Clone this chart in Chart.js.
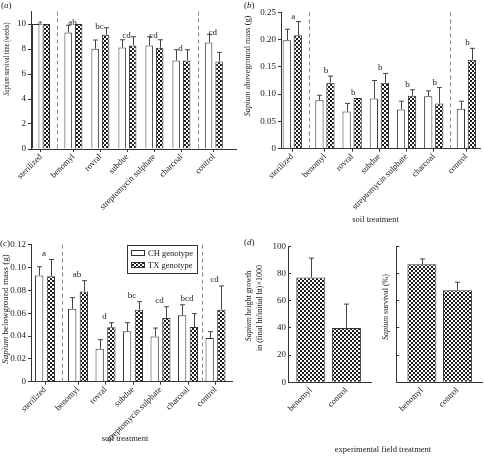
<!DOCTYPE html>
<html>
<head>
<meta charset="utf-8">
<script src="https://cdn.jsdelivr.net/npm/chart.js@4.4.1/dist/chart.umd.min.js"></script>
<style>
  body { margin: 0; background: #fff; }
  #wrap { position: relative; width: 484px; height: 456px; background: #fff; overflow: hidden; }
  #wrap canvas { position: absolute; }
  .note { position: absolute; font: 8.5px "Liberation Serif", serif; color: #222; white-space: nowrap; }
</style>
</head>
<body>
<div id="wrap">
  <canvas id="pa" width="242" height="228" style="left:0;top:0"></canvas>
  <canvas id="pb" width="242" height="228" style="left:242px;top:0"></canvas>
  <canvas id="pc" width="242" height="228" style="left:0;top:228px"></canvas>
  <canvas id="pd1" width="135" height="228" style="left:242px;top:228px"></canvas>
  <canvas id="pd2" width="107" height="228" style="left:377px;top:228px"></canvas>
  <div class="note" id="fieldTitle" style="left:0;top:444px;width:766px;text-align:center">experimental field treatment</div>
</div>
<script>
// ── Dados ───────────────────────────────────────────────────

const soilTreatments = ['sterilized', 'benomyl', 'rovral', 'subdue', 'streptomycin sulphate', 'charcoal', 'control'];
const genotypes = ['CH genotype', 'TX genotype'];

// (a) tempo de sobrevivência (semanas)
const survivalCH    = [10, 9.33, 8.02, 8.13, 8.29, 7.09, 8.53];
const survivalCHErr = [0, 0.57, 0.70, 0.61, 0.69, 0.85, 0.64];
const survivalTX    = [10, 10, 9.14, 8.29, 8.10, 7.09, 7.00];
const survivalTXErr = [0, 0, 0.56, 0.69, 0.64, 0.85, 0.73];
const survivalLetters = ['a', 'ab', 'bc', 'cd', 'cd', 'd', 'cd'];

// (b) massa aérea (g)
const aboveCH    = [0.199, 0.089, 0.068, 0.092, 0.072, 0.096, 0.073];
const aboveCHErr = [0.020, 0.009, 0.015, 0.033, 0.015, 0.010, 0.014];
const aboveTX    = [0.208, 0.121, 0.093, 0.121, 0.097, 0.083, 0.163];
const aboveTXErr = [0.025, 0.012, 0, 0.017, 0.011, 0.029, 0.021];
const aboveLetters = ['a', 'b', 'b', 'b', 'b', 'b', 'b'];

// (c) massa subterrânea (g)
const belowCH    = [0.0931, 0.0639, 0.0289, 0.0441, 0.0397, 0.0581, 0.0382];
const belowCHErr = [0.0076, 0.0097, 0.0079, 0.0076, 0.0073, 0.0093, 0.0056];
const belowTX    = [0.0923, 0.0791, 0.0476, 0.0631, 0.0558, 0.0479, 0.0631];
const belowTXErr = [0.0147, 0.0094, 0.0041, 0.0070, 0.0099, 0.0117, 0.0207];
const belowLetters = ['a', 'ab', 'd', 'bc', 'cd', 'bcd', 'cd'];

// (d) experimento de campo
const fieldTreatments  = ['benomyl', 'control'];
const heightGrowth     = [77, 40];
const heightGrowthErr  = [14.3, 17.5];
const fieldSurvival    = [86.8, 67.7];
const fieldSurvivalErr = [3.9, 5.9];

// ── Layout / estilo ─────────────────────────────────────────

const slotsAB = [0, 1.2, 2.2, 3.2, 4.2, 5.2, 6.4]; // posição dos grupos no eixo x
const slotsC  = [0, 1.2, 2.2, 3.2, 4.2, 5.2, 6.2];
const slotsD  = [0, 1];

const FONT = '"Liberation Serif", "DejaVu Serif", serif';
const FS = 9;
const INK = '#222';
const AXIS = '#333';

function hatch() {
    const c = document.createElement('canvas');
    c.width = 4; c.height = 4;
    const g = c.getContext('2d');
    g.fillStyle = '#fff'; g.fillRect(0, 0, 4, 4);
    g.fillStyle = '#1c1c1c';
    g.fillRect(0, 0, 2, 2); g.fillRect(2, 2, 2, 2);
    return g.createPattern(c, 'repeat');
}
const TX_FILL = hatch();

// desenha texto com partes em itálico (sx comprime no sentido do texto)
function drawParts(ctx, parts, x, y, rot, align, size, sx) {
    const fs = size || FS;
    ctx.save();
    ctx.translate(x, y);
    if (rot) ctx.rotate(rot);
    if (sx) ctx.scale(sx, 1);
    ctx.textBaseline = 'middle';
    ctx.textAlign = 'left';
    let total = 0;
    parts.forEach(p => { ctx.font = (p.it ? 'italic ' : '') + fs + 'px ' + FONT; total += ctx.measureText(p.t).width; });
    let cx = align === 'left' ? 0 : -total / 2;
    ctx.fillStyle = INK;
    parts.forEach(p => {
        ctx.font = (p.it ? 'italic ' : '') + fs + 'px ' + FONT;
        ctx.fillText(p.t, cx, 0);
        cx += ctx.measureText(p.t).width;
    });
    ctx.restore();
}

// plugin: separadores, barras de erro, letras, títulos
const extras = {
    id: 'extras',
    beforeDatasetsDraw(chart) {
        const o = chart.options.plugins.extras;
        const { ctx, chartArea: a } = chart;
        const xs = chart.scales.x;
        (o.seps || []).forEach(v => {
            const px = Math.round(xs.getPixelForValue(v)) + 0.5;
            ctx.save();
            ctx.strokeStyle = '#8a8a8a';
            ctx.lineWidth = 1;
            ctx.setLineDash([4, 3]);
            ctx.beginPath(); ctx.moveTo(px, a.top); ctx.lineTo(px, a.bottom); ctx.stroke();
            ctx.restore();
        });
    },
    afterDatasetsDraw(chart) {
        const o = chart.options.plugins.extras;
        const { ctx } = chart;
        const ys = chart.scales.y;
        const tops = [];
        ctx.save();
        ctx.strokeStyle = '#444';
        ctx.lineWidth = 1;
        chart.data.datasets.forEach((ds, di) => {
            chart.getDatasetMeta(di).data.forEach((bar, i) => {
                const v = ds.data[i].y, e = ds.err[i] || 0;
                const yt = ys.getPixelForValue(v + e);
                tops[i] = Math.min(tops[i] ?? Infinity, yt);
                if (!e) return;
                const bx = Math.round(bar.x) + 0.5;
                ctx.beginPath();
                ctx.moveTo(bx, bar.y); ctx.lineTo(bx, yt);
                ctx.moveTo(bx - 2.5, yt); ctx.lineTo(bx + 2.5, yt);
                ctx.stroke();
            });
        });
        ctx.restore();
        if (o.letters) {
            ctx.save();
            ctx.font = FS + 'px ' + FONT;
            ctx.fillStyle = INK;
            ctx.textAlign = 'center';
            ctx.textBaseline = 'alphabetic';
            o.letters.forEach((t, i) => {
                const x = chart.scales.x.getPixelForValue(o.slots[i]) + (o.letterDx || 0);
                ctx.fillText(t, x, tops[i] + o.letterDy);
            });
            ctx.restore();
        }
    },
    afterDraw(chart) {
        const o = chart.options.plugins.extras;
        const { ctx } = chart;
        (o.texts || []).forEach(t => drawParts(ctx, t.parts, t.x, t.y, t.rot, t.align, t.size, t.sx));
        if (o.legend) {
            const L = o.legend;
            ctx.save();
            ctx.strokeStyle = AXIS; ctx.lineWidth = 1;
            ctx.strokeRect(L.x + 0.5, L.y + 0.5, L.w, L.h);
            chart.data.datasets.forEach((ds, i) => {
                const yy = L.y + 8 + i * 12;
                ctx.fillStyle = ds.backgroundColor;
                ctx.fillRect(L.x + 4, yy - 2, 13, 5);
                ctx.strokeStyle = AXIS;
                ctx.strokeRect(L.x + 4.5, yy - 2.5, 13, 5);
                drawParts(ctx, [{ t: ds.label }], L.x + 21, yy + 0.5, 0, 'left', 8.5);
            });
            ctx.restore();
        }
    }
};

function tickFmt(v) { return v === 0 ? '0' : v.toFixed(2); }

function makePanel(id, p) {
    const el = document.getElementById(id);
    const W = el.width, H = el.height;
    const inward = !!p.inwardTicks;
    return new Chart(el.getContext('2d'), {
        type: 'bar',
        data: {
            datasets: p.series.map(s => ({
                label: s.label,
                data: p.slots.map((x, i) => ({ x, y: s.data[i] })),
                err: s.err,
                backgroundColor: s.fill,
                borderColor: AXIS,
                borderWidth: 1,
                categoryPercentage: p.catPct,
                barPercentage: p.barPct,
            }))
        },
        options: {
            responsive: false,
            animation: false,
            events: [],
            layout: { padding: { left: 0, top: p.area.t, right: W - p.area.r, bottom: 0 } },
            plugins: {
                legend: { display: false },
                tooltip: { enabled: false },
                extras: p.extras,
            },
            scales: {
                x: {
                    type: 'linear',
                    min: p.xMin, max: p.xMax,
                    offset: false,
                    grid: { display: true, drawOnChartArea: false, drawTicks: !inward, tickLength: 3, color: AXIS, offset: false },
                    border: { color: AXIS },
                    afterBuildTicks: s => { s.ticks = p.slots.map(v => ({ value: v })); },
                    afterFit: s => { s.height = H - p.area.b; },
                    ticks: {
                        autoSkip: false, minRotation: 45, maxRotation: 45, padding: inward ? 3 : 0,
                        color: INK, font: { family: FONT, size: 8.5 },
                        callback: (v, i) => p.labels[i],
                    }
                },
                y: {
                    min: 0, max: p.yMax,
                    grid: { drawOnChartArea: false, tickLength: inward ? -3 : 3, color: AXIS },
                    border: { color: AXIS },
                    afterFit: s => { s.width = p.area.l; },
                    ticks: {
                        stepSize: p.yStep, includeBounds: false, padding: inward ? 5 : 2,
                        color: INK, font: { family: FONT, size: FS },
                        callback: p.yFmt || (v => v),
                    }
                }
            }
        },
        plugins: [extras]
    });
}

const seriesOf = (ch, chE, tx, txE) => [
    { label: genotypes[0], data: ch, err: chE, fill: '#fff' },
    { label: genotypes[1], data: tx, err: txE, fill: TX_FILL },
];
const sepsOf = s => [(s[0] + s[1]) / 2, (s[5] + s[6]) / 2];

// (a)
makePanel('pa', {
    labels: soilTreatments, slots: slotsAB,
    series: seriesOf(survivalCH, survivalCHErr, survivalTX, survivalTXErr),
    area: { l: 31, t: 11.5, r: 236, b: 149 },
    xMin: -0.37, xMax: 7.22, yMax: 11, yStep: 2,
    catPct: 0.78, barPct: 0.71,
    extras: {
        seps: sepsOf(slotsAB), slots: slotsAB, letters: survivalLetters, letterDx: -1, letterDy: 1,
        texts: [
            { parts: [{ t: '(' }, { t: 'a', it: true }, { t: ')' }], x: 1, y: 6, align: 'left' },
            { parts: [{ t: 'Sapium', it: true }, { t: ' survival time (weeks)' }], x: 7, y: 59, rot: -Math.PI / 2, size: 9, sx: 0.68 },
        ]
    }
});

// (b)
makePanel('pb', {
    labels: soilTreatments, slots: slotsAB,
    series: seriesOf(aboveCH, aboveCHErr, aboveTX, aboveTXErr),
    area: { l: 39, t: 12.3, r: 238, b: 148.7 },
    xMin: -0.415, xMax: 6.9, yMax: 0.25, yStep: 0.05, yFmt: tickFmt,
    catPct: 0.81, barPct: 0.75,
    extras: {
        seps: sepsOf(slotsAB), slots: slotsAB, letters: aboveLetters, letterDx: 1, letterDy: -3,
        texts: [
            { parts: [{ t: '(' }, { t: 'b', it: true }, { t: ')' }], x: 2, y: 6, align: 'left' },
            { parts: [{ t: 'Sapium', it: true }, { t: ' aboveground mass (g)' }], x: 6, y: 66, rot: -Math.PI / 2, size: 8.3 },
            { parts: [{ t: 'soil treatment' }], x: 133.5, y: 220, size: 8.5 },
        ]
    }
});

// (c)
makePanel('pc', {
    labels: soilTreatments, slots: slotsC,
    series: seriesOf(belowCH, belowCHErr, belowTX, belowTXErr),
    area: { l: 31, t: 16.7, r: 232, b: 153.7 },
    xMin: -0.51, xMax: 6.8, yMax: 0.12, yStep: 0.02, yFmt: tickFmt,
    catPct: 0.85, barPct: 0.71,
    extras: {
        seps: sepsOf(slotsC), slots: slotsC, letters: belowLetters, letterDx: -1, letterDy: -4,
        legend: { x: 127, y: 17, w: 70, h: 28 },
        texts: [
            { parts: [{ t: '(' }, { t: 'c', it: true }, { t: ')' }], x: 0, y: 16, align: 'left' },
            { parts: [{ t: 'Sapium', it: true }, { t: ' belowground mass (g)' }], x: 6, y: 81, rot: -Math.PI / 2 },
            { parts: [{ t: 'soil treatment' }], x: 125, y: 211, size: 8.5 },
        ]
    }
});

// (d) altura
makePanel('pd1', {
    labels: fieldTreatments, slots: slotsD,
    series: [{ label: 'growth', data: heightGrowth, err: heightGrowthErr, fill: TX_FILL }],
    area: { l: 46, t: 18.3, r: 129, b: 154.3 },
    xMin: -0.64, xMax: 1.69, yMax: 100, yStep: 20, inwardTicks: true,
    catPct: 1, barPct: 0.815,
    extras: {
        texts: [
            { parts: [{ t: '(' }, { t: 'd', it: true }, { t: ')' }], x: 2, y: 15, align: 'left' },
            { parts: [{ t: 'Sapium', it: true }, { t: ' height growth' }], x: 7, y: 78, rot: -Math.PI / 2, size: 8 },
            { parts: [{ t: 'in (final ht/initial ht)×1000' }], x: 18, y: 80, rot: -Math.PI / 2, size: 8 },
        ]
    }
});

// (d) sobrevivência
makePanel('pd2', {
    labels: fieldTreatments, slots: slotsD,
    series: [{ label: 'survival', data: fieldSurvival, err: fieldSurvivalErr, fill: TX_FILL }],
    area: { l: 19.3, t: 18.3, r: 105.7, b: 154.3 },
    xMin: -0.72, xMax: 1.71, yMax: 100, yStep: 20, yFmt: () => '', inwardTicks: true,
    catPct: 1, barPct: 0.815,
    extras: {
        texts: [
            { parts: [{ t: 'Sapium', it: true }, { t: ' survival (%)' }], x: 9, y: 79, rot: -Math.PI / 2, size: 8 },
        ]
    }
});
</script>
</body>
</html>
